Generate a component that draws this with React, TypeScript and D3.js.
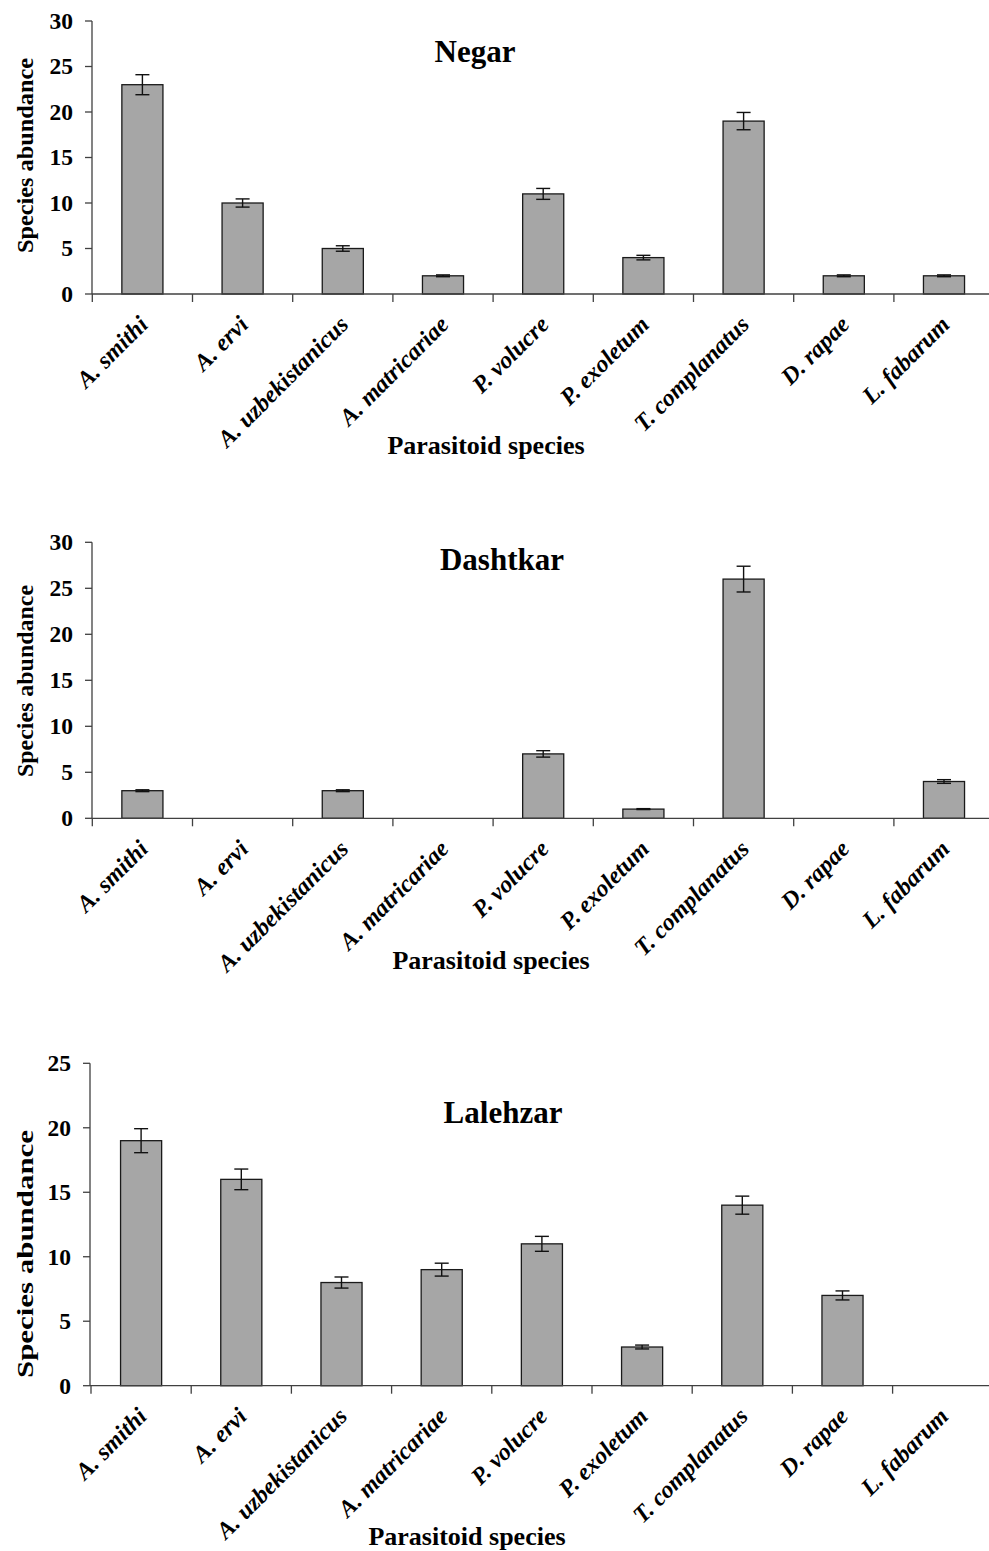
import React from "react";
import * as d3 from "d3";

const species = [
  "A. smithi",
  "A. ervi",
  "A. uzbekistanicus",
  "A. matricariae",
  "P. volucre",
  "P. exoletum",
  "T. complanatus",
  "D. rapae",
  "L. fabarum",
];

const negarValues = [23, 10, 5, 2, 11, 4, 19, 2, 2];
const negarErrors = [1.1, 0.45, 0.3, 0.1, 0.6, 0.25, 0.95, 0.1, 0.1];
const dashtkarValues = [3, 0, 3, 0, 7, 1, 26, 0, 4];
const dashtkarErrors = [0.1, 0, 0.1, 0, 0.35, 0.05, 1.4, 0, 0.2];
const lalehzarValues = [19, 16, 8, 9, 11, 3, 14, 7, 0];
const lalehzarErrors = [0.93, 0.8, 0.43, 0.5, 0.58, 0.15, 0.7, 0.35, 0];

const ticks30 = [0, 5, 10, 15, 20, 25, 30];
const ticks25 = [0, 5, 10, 15, 20, 25];

const yAxisTitle = "Species abundance";
const xAxisTitle = "Parasitoid species";

const FONT = "'Liberation Serif', 'Times New Roman', serif";

type Panel = {
  title: string;
  values: number[];
  errors: number[];
  ticks: number[];
  titleX: number;
  titleY: number;
  axisX: number;
  bandStart: number;
  yTop: number;
  y0: number;
  yTitleCY: number;
  yTitleLen: number;
  xTitleX: number;
  xTitleY: number;
};

const panels: Panel[] = [
  {
    title: "Negar",
    values: negarValues,
    errors: negarErrors,
    ticks: ticks30,
    titleX: 475,
    titleY: 62,
    axisX: 92,
    bandStart: 92.3,
    yTop: 21,
    y0: 294,
    yTitleCY: 155.5,
    yTitleLen: 195,
    xTitleX: 486,
    xTitleY: 454,
  },
  {
    title: "Dashtkar",
    values: dashtkarValues,
    errors: dashtkarErrors,
    ticks: ticks30,
    titleX: 502,
    titleY: 570,
    axisX: 92,
    bandStart: 92.3,
    yTop: 542.3,
    y0: 818.3,
    yTitleCY: 681,
    yTitleLen: 192,
    xTitleX: 491,
    xTitleY: 969,
  },
  {
    title: "Lalehzar",
    values: lalehzarValues,
    errors: lalehzarErrors,
    ticks: ticks25,
    titleX: 503,
    titleY: 1123,
    axisX: 90,
    bandStart: 91,
    yTop: 1063.3,
    y0: 1385.7,
    yTitleCY: 1254,
    yTitleLen: 248,
    xTitleX: 467,
    xTitleY: 1545,
  },
];

const STEP = 100.2;

function Chart({ p }: { p: Panel }) {
  const maxV = p.ticks[p.ticks.length - 1];
  const y = d3.scaleLinear().domain([0, maxV]).range([p.y0, p.yTop]);
  const x = d3
    .scaleBand<string>()
    .domain(species)
    .range([p.bandStart, p.bandStart + STEP * species.length])
    .paddingInner(0.59)
    .paddingOuter(0.295);
  const step = x.step();
  const bw = x.bandwidth();
  const axisColor = "#404040";
  return (
    <g>
      {species.map((s, i) => {
        const v = p.values[i];
        if (v <= 0) return null;
        return (
          <rect
            key={"b" + i}
            x={x(s)!}
            y={y(v)}
            width={bw}
            height={p.y0 - y(v)}
            fill="#a6a6a6"
            stroke="#1a1a1a"
            strokeWidth={1.3}
          />
        );
      })}
      {species.map((s, i) => {
        const v = p.values[i];
        const e = p.errors[i];
        if (v <= 0 || e <= 0) return null;
        const cx = x(s)! + bw / 2;
        const hi = y(v + e);
        const lo = y(v - e);
        return (
          <g key={"e" + i} stroke="#111" strokeWidth={1.4}>
            <line x1={cx} x2={cx} y1={hi} y2={lo} />
            <line x1={cx - 7} x2={cx + 7} y1={hi} y2={hi} />
            <line x1={cx - 7} x2={cx + 7} y1={lo} y2={lo} />
          </g>
        );
      })}
      <line x1={p.axisX} x2={p.axisX} y1={p.yTop} y2={p.y0} stroke={axisColor} strokeWidth={1.3} />
      {p.ticks.map((t) => (
        <g key={"yt" + t}>
          <line x1={p.axisX - 7} x2={p.axisX} y1={y(t)} y2={y(t)} stroke={axisColor} strokeWidth={1.3} />
          <text
            x={p.axisX - 19}
            y={y(t)}
            dy="0.34em"
            textAnchor="end"
            fontFamily={FONT}
            fontWeight="bold"
            fontSize={23.5}
            fill="#000"
          >
            {t}
          </text>
        </g>
      ))}
      <line x1={p.axisX} x2={989} y1={p.y0} y2={p.y0} stroke={axisColor} strokeWidth={1.3} />
      {d3.range(species.length).map((i) => {
        const tx = p.bandStart + i * step;
        return (
          <line
            key={"xt" + i}
            x1={tx}
            x2={tx}
            y1={p.y0}
            y2={p.y0 + 8}
            stroke={axisColor}
            strokeWidth={1.3}
          />
        );
      })}
      {species.map((s, i) => {
        const cx = x(s)! + bw / 2;
        return (
          <text
            key={"xl" + i}
            transform={`translate(${cx + 7},${p.y0 + 32}) rotate(-45)`}
            textAnchor="end"
            fontFamily={FONT}
            fontWeight="bold"
            fontStyle="italic"
            fontSize={24}
            fill="#000"
          >
            {s}
          </text>
        );
      })}
      <text
        x={p.titleX}
        y={p.titleY}
        textAnchor="middle"
        fontFamily={FONT}
        fontWeight="bold"
        fontSize={31}
        fill="#000"
      >
        {p.title}
      </text>
      <text
        transform={`translate(33,${p.yTitleCY}) rotate(-90)`}
        textAnchor="middle"
        fontFamily={FONT}
        fontWeight="bold"
        fontSize={24}
        textLength={p.yTitleLen}
        lengthAdjust="spacingAndGlyphs"
        fill="#000"
      >
        {yAxisTitle}
      </text>
      <text
        x={p.xTitleX}
        y={p.xTitleY}
        textAnchor="middle"
        fontFamily={FONT}
        fontWeight="bold"
        fontSize={26}
        fill="#000"
      >
        {xAxisTitle}
      </text>
    </g>
  );
}

export default function App() {
  return (
    <svg
      width={989}
      height={1551}
      viewBox="0 0 989 1551"
      style={{ position: "absolute", left: 0, top: 0, background: "#fff" }}
    >
      <rect x={0} y={0} width={989} height={1551} fill="#fff" />
      {panels.map((p) => (
        <Chart key={p.title} p={p} />
      ))}
    </svg>
  );
}
